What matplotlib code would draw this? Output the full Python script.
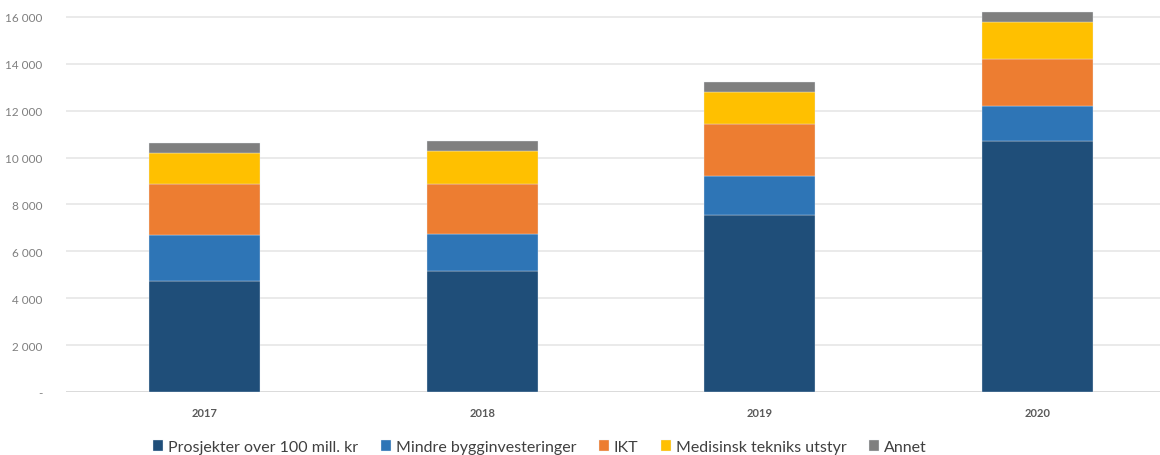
import matplotlib
matplotlib.use("Agg")
import matplotlib.pyplot as plt
from matplotlib.ticker import FuncFormatter
import numpy as np

plt.rcParams['font.family'] = ['Lato', 'DejaVu Sans']

years = ["2017", "2018", "2019", "2020"]
series_names = [
    "Prosjekter over 100 mill. kr",
    "Mindre bygginvesteringer",
    "IKT",
    "Medisinsk tekniks utstyr",
    "Annet",
]
prosjekter = [4750, 5150, 7550, 10720]
mindre_bygg = [1930, 1570, 1650, 1490]
ikt = [2200, 2160, 2220, 1980]
medisinsk = [1320, 1390, 1370, 1610]
annet = [420, 420, 420, 430]
colors = ["#1F4E79", "#2E75B6", "#ED7D31", "#FFC000", "#7F7F7F"]

W, H = 1160, 456
fig = plt.figure(figsize=(W / 100, H / 100), dpi=100)
ax = fig.add_axes([66 / W, 63 / H, (1176 - 66) / W, 398.5 / H])

x = np.arange(len(years))
bottom = np.zeros(len(years))
for name, vals, col in zip(series_names,
                           [prosjekter, mindre_bygg, ikt, medisinsk, annet],
                           colors):
    ax.bar(x, vals, width=0.4, bottom=bottom, color=col, label=name,
           edgecolor="#E8EEF4", linewidth=0.25, zorder=3)
    bottom += np.array(vals)

ax.set_xlim(-0.5, 3.5)
ax.set_ylim(0, 17000)


def fmt(v, pos):
    if v == 0:
        return "-"
    return f"{int(v):,}".replace(",", " ")


ax.set_yticks(list(range(0, 16001, 2000)))
ax.yaxis.set_major_formatter(FuncFormatter(fmt))
ax.grid(axis="y", color="#E6E6E6", linewidth=1.2, zorder=0)
ax.set_axisbelow(True)
for s in ax.spines.values():
    s.set_visible(False)
ax.axhline(0, color="#D9D9D9", linewidth=1.2, zorder=1)

ax.set_xticks(x)
ax.set_xticklabels(years, fontsize=8, color="#595959", fontweight="bold")
ax.tick_params(axis="x", length=0, pad=11)
ax.tick_params(axis="y", length=0, pad=17, labelsize=8.5, labelcolor="#7F7F7F")

handles, labels = ax.get_legend_handles_labels()
leg = fig.legend(handles, labels, loc="center", ncol=5,
                 bbox_to_anchor=(540 / W, 1 - 448 / H), frameon=False,
                 fontsize=11.5, handlelength=0.65, handleheight=0.65,
                 handletextpad=0.3, columnspacing=1.4, borderaxespad=0)
for t in leg.get_texts():
    t.set_color("#404040")

fig.savefig("out.png", dpi=100)
